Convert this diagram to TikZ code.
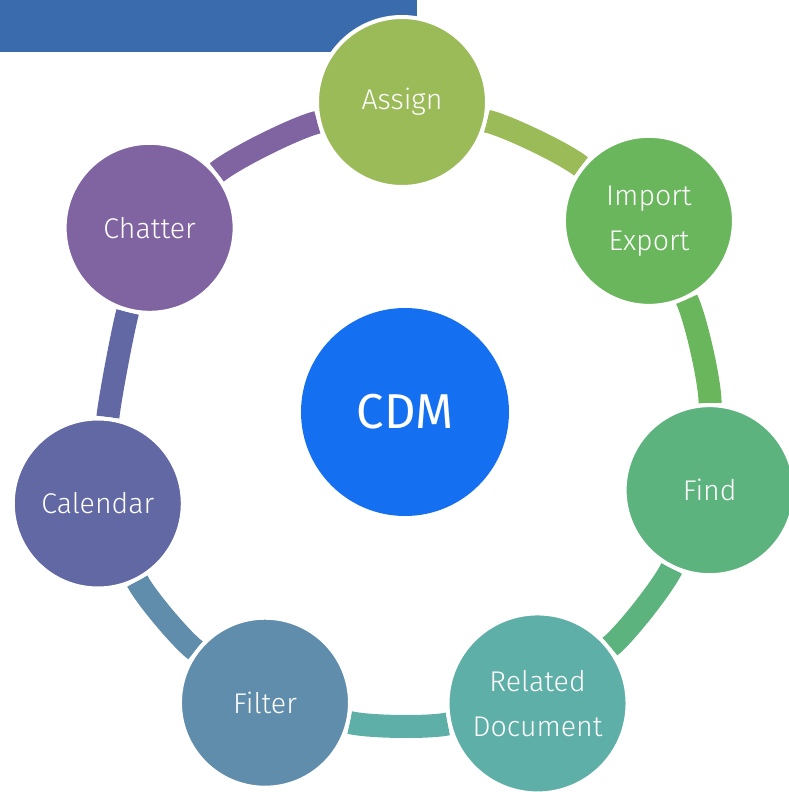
\documentclass[tikz,border=0pt]{standalone}
\usepackage{fontspec}
\IfFontExistsTF{Fira Sans Light}
  {\newfontfamily\labelfont{Fira Sans Light}}
  {\newfontfamily\labelfont{Fira Sans}}
\newfontfamily\hubfont{Fira Sans}
\usetikzlibrary{backgrounds}

\definecolor{barblue}{HTML}{3A6CAD}
\definecolor{cdmblue}{HTML}{1470F0}
\definecolor{assigncol}{HTML}{9BBB59}
\definecolor{importcol}{HTML}{6AB65C}
\definecolor{findcol}{HTML}{5DB37E}
\definecolor{relatedcol}{HTML}{5EAFA7}
\definecolor{filtercol}{HTML}{5F8DAB}
\definecolor{calendarcol}{HTML}{6168A4}
\definecolor{chattercol}{HTML}{8064A2}

\tikzset{
  item/.style={circle, fill=#1, draw=white, line width=4pt, minimum size=170pt,
    inner sep=0pt, text=white, align=center,
    font=\labelfont\fontsize{28.5}{45}\selectfont},
  hub/.style={circle, fill=cdmblue, minimum size=208pt, inner sep=0pt, text=white,
    font=\hubfont\fontsize{49}{60}\selectfont},
  ringarc/.style={draw=#1, line width=23pt, looseness=0.5}
}

\begin{document}
\begin{tikzpicture}[x=1pt, y=1pt]
        \useasboundingbox (-402,-374) rectangle (387,418);

        \node[hub] at (3,6) (cdm) {CDM};
        \node[item=assigncol] at (90:316) (assign) {Assign};
        \node[item=importcol] at (38.6:316) (import) {Import\\Export};
        \node[item=findcol] at (-13.2:316) (find) {Find};
        \node[item=relatedcol, minimum size=180pt] at (-64.6:316) (related) {Related\\Document};
        \node[item=filtercol] at (-115.7:316) (filter) {Filter};
        \node[item=calendarcol] at (-164.3:316) (calendar) {Calendar};
        \node[item=chattercol] at (143:316) (chatter) {Chatter};

        \begin{scope}[on background layer]
          \fill[barblue] (-402,418) rectangle (15,366);
          \draw[ringarc=assigncol] (assign) to[bend left=13] (import);
          \draw[ringarc=importcol] (import) to[bend left=13] (find);
          \draw[ringarc=findcol] (find) to[bend left=13] (related);
          \draw[ringarc=relatedcol] (related) to[bend left=13] (filter);
          \draw[ringarc=filtercol] (filter) to[bend left=13] (calendar);
          \draw[ringarc=calendarcol] (calendar) to[bend left=4] (chatter);
          \draw[ringarc=chattercol] (chatter) to[bend left=13] (assign);
        \end{scope}
      \end{tikzpicture}
\end{document}
